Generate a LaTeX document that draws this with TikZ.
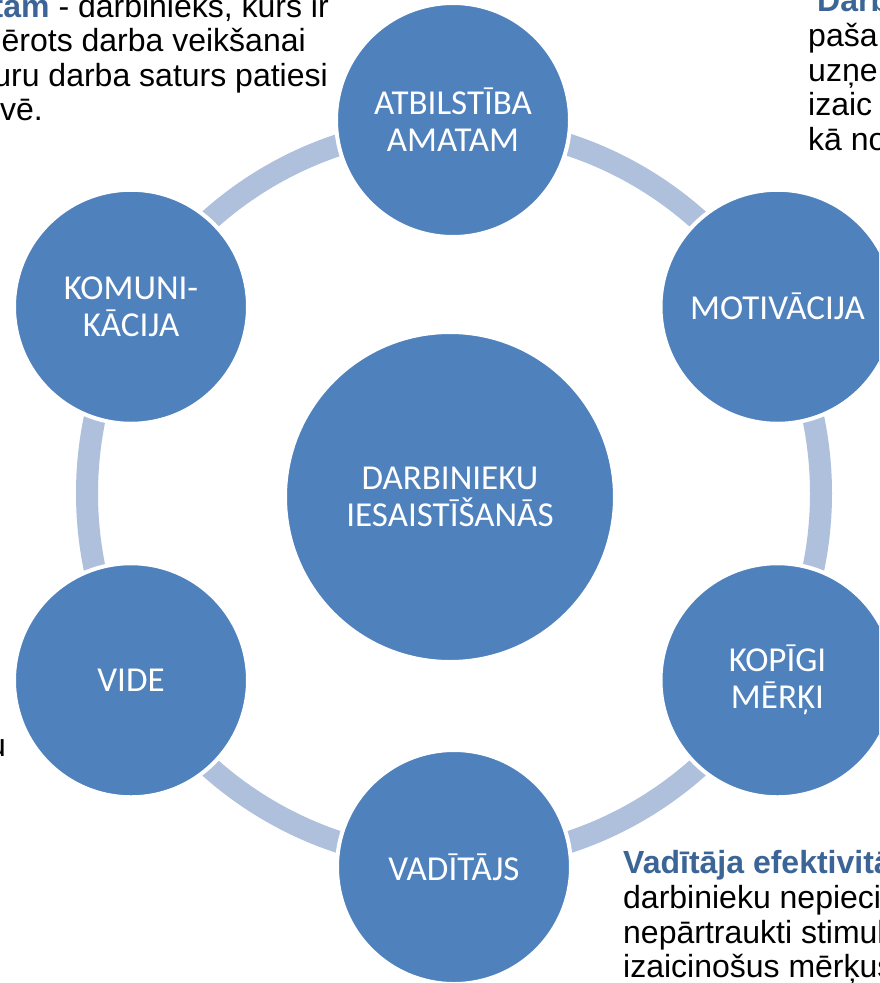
\documentclass[tikz,border=0pt]{standalone}
\usepackage{fontspec}
\setmainfont{Liberation Sans}
\newfontfamily\circfont{Carlito}
\definecolor{circblue}{HTML}{4F81BD}
\definecolor{ringblue}{HTML}{AFC0DD}
\definecolor{titleblue}{HTML}{3C6597}
\tikzset{
  bubble/.style={circle, fill=circblue, draw=white, line width=4pt, minimum size=234pt,
    inner sep=0pt, text=white, align=center, font=\circfont\fontsize{35}{37}\selectfont},
  hub/.style={bubble, minimum size=330pt},
  sidetext/.style={inner sep=0pt, anchor=base west, font=\fontsize{32}{35}\selectfont, text=black},
  titletext/.style={sidetext, text=titleblue, font=\fontsize{32}{35}\selectfont\bfseries},
  ring/.style={draw=ringblue, line width=22pt}
}
\begin{document}
\begin{tikzpicture}[x=1pt,y=-1pt]
\useasboundingbox (0,0) rectangle (879,983);
\clip (0,0) rectangle (879,983);
\fill[white] (0,0) rectangle (879,983);
\coordinate (C) at (454,493.5);
\draw[ring] (C) circle (367pt);

\node[bubble] (top) at (453,120) {ATBILSTĪBA\\AMATAM};
\node[bubble] (mot) at (777.5,306.75) {MOTIVĀCIJA};
\node[bubble] (kop) at (777.5,680.25) {KOPĪGI\\MĒRĶI};
\node[bubble] (vad) at (454,867) {VADĪTĀJS};
\node[bubble] (vide) at (131,680.25) {VIDE};
\node[bubble] (kom) at (131,306.75) {KOMUNI-\\KĀCIJA};
\node[hub] (hub) at (450,497) {DARBINIEKU\\IESAISTĪŠANĀS};

\node[sidetext, anchor=base east] (tl1) at (329,17) {\textcolor{titleblue}{\textbf{tam}} - darbinieks, kurš ir};
\node[sidetext, anchor=base east] (tl2) at (306,51) {mērots darba veikšanai};
\node[sidetext, anchor=base east] (tl3) at (328,86) {uru darba saturs patiesi};
\node[sidetext] (tl4) at (0,120) {vē.};
\node[sidetext, anchor=base east] (lu) at (6,756) {u};

\node[titletext] (tr1) at (817,11) {Darb};
\node[sidetext] (tr2) at (808,46) {paša};
\node[sidetext] (tr3) at (808,81) {uzņe};
\node[sidetext] (tr4) at (808,115) {izaic};
\node[sidetext] (tr5) at (808,150) {kā no};

\node[titletext] (br1) at (623,873) {Vadītāja efektivitā};
\node[sidetext] (br2) at (623,908) {darbinieku nepieci};
\node[sidetext] (br3) at (623,943) {nepārtraukti stimul};
\node[sidetext] (br4) at (623,977) {izaicinošus mērķus};
\end{tikzpicture}
\end{document}
